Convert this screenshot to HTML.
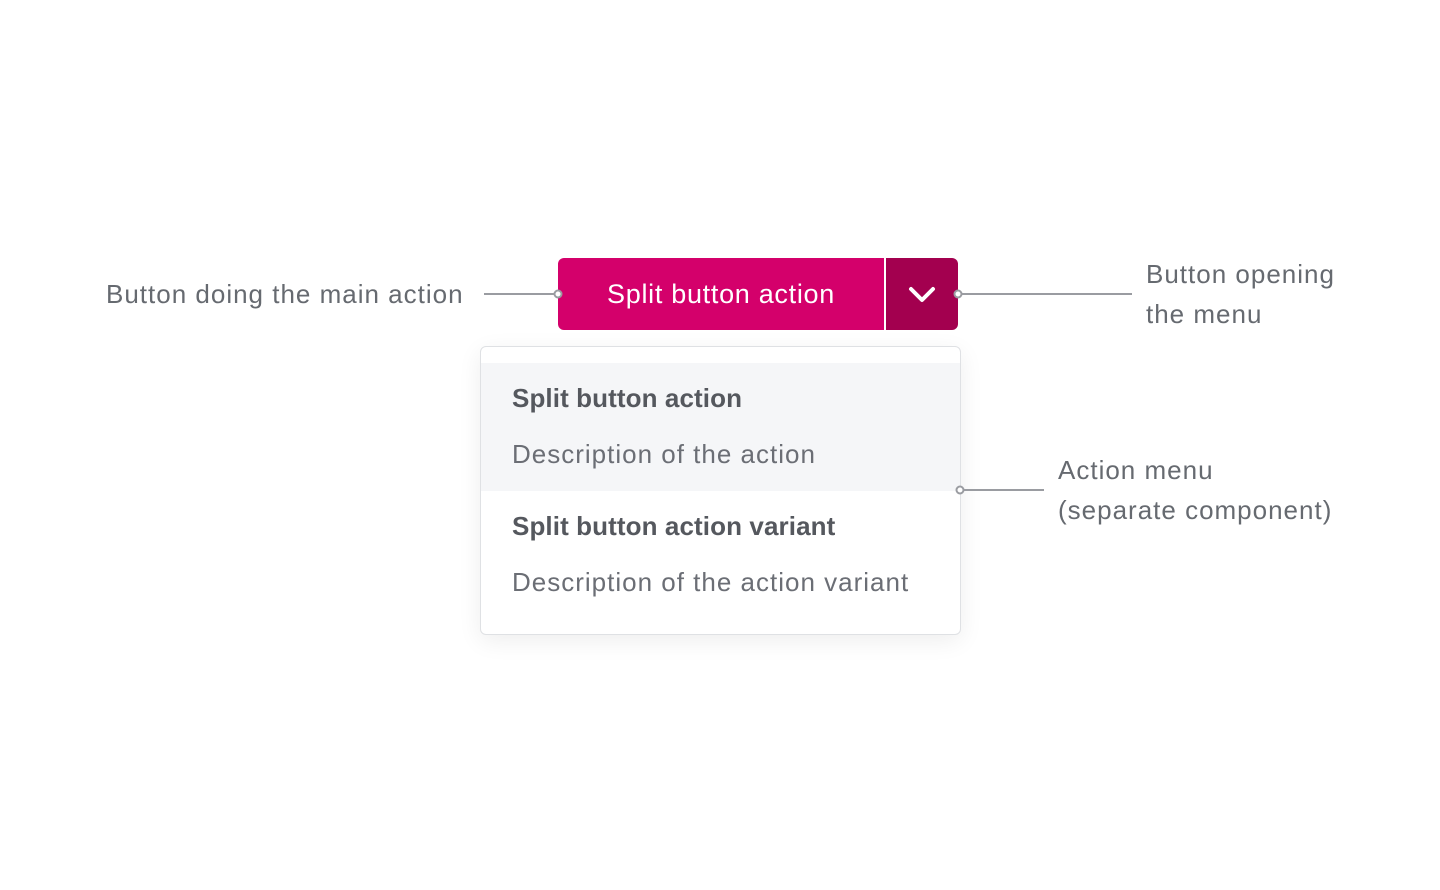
<!DOCTYPE html>
<html><head><style>
body{margin:0;width:1440px;height:890px;background:#fff;position:relative;font-family:"Liberation Sans",sans-serif;overflow:hidden}
.t{position:absolute;font-size:26px;color:#666a70;line-height:40px;white-space:nowrap;letter-spacing:1px}
.btn{position:absolute;left:558px;top:258px;width:326px;height:72px;background:#d4006b;border-radius:6px 0 0 6px;color:#fff;font-size:27px;text-align:center;line-height:72px;letter-spacing:0.7px}
.dd{position:absolute;left:886px;top:258px;width:72px;height:72px;background:#a3004f;border-radius:0 6px 6px 0}
.menu{position:absolute;left:480px;top:346px;width:479px;height:287px;border:1px solid #dfe1e4;border-radius:6px;background:#fff;box-shadow:0 6px 24px rgba(0,0,0,0.07);overflow:hidden}
.hl{position:absolute;left:0;top:16px;width:100%;height:128px;background:#f5f6f8}
.mt{position:absolute;left:31px;font-size:26px;color:#55585e;font-weight:bold;letter-spacing:0.1px;white-space:nowrap}
.md{position:absolute;left:31px;font-size:26px;color:#6b6e75;letter-spacing:1px;white-space:nowrap}
</style></head><body>
<div class="t" style="left:106px;top:274px">Button doing the main action</div>
<div class="t" style="left:1146px;top:254px">Button opening<br>the menu</div>
<div class="t" style="left:1058px;top:450px">Action menu<br>(separate component)</div>
<div class="btn">Split button action</div>
<div class="dd"><svg width="72" height="72"><polyline points="25,31 36,42 47,31" fill="none" stroke="#fff" stroke-width="4" stroke-linecap="round" stroke-linejoin="round"/></svg></div>
<div class="menu">
<div class="hl"></div>
<div class="mt" style="top:36px">Split button action</div>
<div class="md" style="top:92px">Description of the action</div>
<div class="mt" style="top:164px">Split button action variant</div>
<div class="md" style="top:220px">Description of the action variant</div>
</div>
<svg style="position:absolute;left:0;top:0" width="1440" height="890">
<g stroke="#9a9ca1" stroke-width="2" fill="#fff">
<line x1="484" y1="294" x2="554" y2="294"/>
<line x1="962" y1="294" x2="1132" y2="294"/>
<line x1="964" y1="490" x2="1044" y2="490"/>
<circle cx="558" cy="294" r="3.5"/>
<circle cx="958" cy="294" r="3.5"/>
<circle cx="960" cy="490" r="3.5"/>
</g></svg>
</body></html>
